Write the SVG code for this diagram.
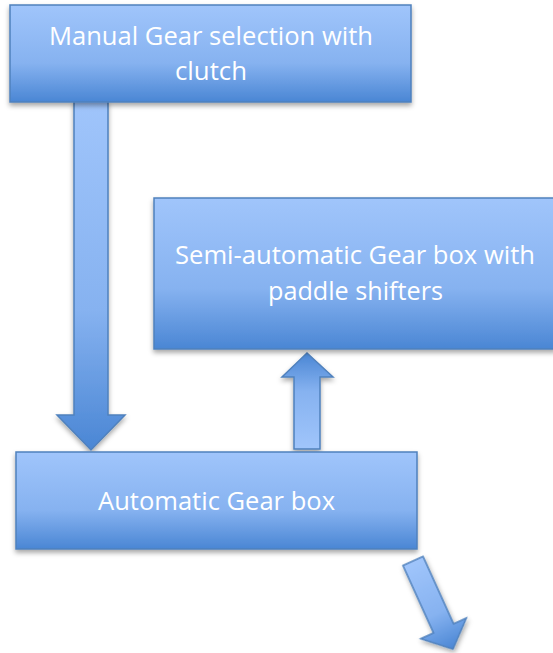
<svg xmlns="http://www.w3.org/2000/svg" width="553" height="653" viewBox="0 0 553 653">
<defs>
<linearGradient id="gDown" x1="0" y1="0" x2="0" y2="1">
<stop offset="0" stop-color="#A0C5FB"/>
<stop offset="0.6" stop-color="#86B2F0"/>
<stop offset="1" stop-color="#4A86D4"/>
</linearGradient>
<linearGradient id="gUp" x1="0" y1="1" x2="0" y2="0">
<stop offset="0" stop-color="#A0C5FB"/>
<stop offset="0.6" stop-color="#86B2F0"/>
<stop offset="1" stop-color="#4A86D4"/>
</linearGradient>
<filter id="sh" x="-10%" y="-10%" width="120%" height="130%">
<feDropShadow dx="0" dy="3" stdDeviation="2.5" flood-color="#000" flood-opacity="0.35"/>
</filter>
</defs>
<style>
.box{fill:url(#gDown);stroke:#4F81BD;stroke-width:1.5;filter:url(#sh)}
.arr{stroke:#4F81BD;stroke-width:1.5;stroke-linejoin:miter;filter:url(#sh)}
.t{font-family:"Open Sans","Liberation Sans",Arial,sans-serif;font-size:25px;fill:#FFFFFF;text-anchor:middle}
</style>
<g id="connectors">
<path class="arr" fill="url(#gDown)" d="M74,101 L108,101 L108,415 L125,415 L91,450 L57,415 L74,415 Z"/>
<path class="arr" fill="url(#gUp)" d="M294,449 L320,449 L320,377 L333,377 L307,353 L282,377 L294,377 Z"/>
<g transform="translate(413,561) rotate(-24.4)">
<path class="arr" fill="url(#gDown)" d="M-11,0 L11,0 L11,74 L25,74 L0,96.7 L-25,74 L-11,74 Z"/>
</g>
</g>
<g id="manual">
<rect class="box" x="10" y="5" width="401" height="97"/>
<text class="t" x="211" y="45" textLength="324" lengthAdjust="spacingAndGlyphs">Manual Gear selection with</text>
<text class="t" x="211" y="80" textLength="72" lengthAdjust="spacingAndGlyphs">clutch</text>
</g>
<g id="semi">
<rect class="box" x="154" y="198" width="402" height="151"/>
<text class="t" x="355" y="264" textLength="360" lengthAdjust="spacingAndGlyphs">Semi-automatic Gear box with</text>
<text class="t" x="355.5" y="300" textLength="175" lengthAdjust="spacingAndGlyphs">paddle shifters</text>
</g>
<g id="auto">
<rect class="box" x="16" y="452" width="401" height="97"/>
<text class="t" x="216.5" y="510" textLength="237" lengthAdjust="spacingAndGlyphs">Automatic Gear box</text>
</g>
</svg>
